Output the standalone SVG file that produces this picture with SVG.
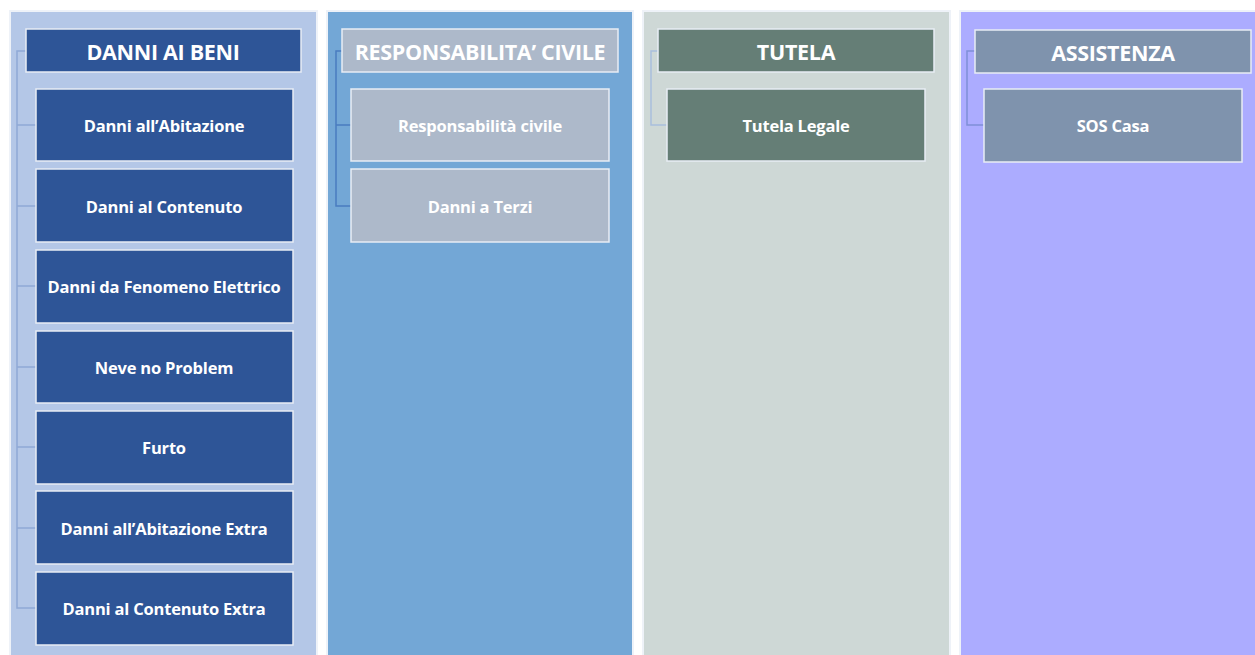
<svg xmlns="http://www.w3.org/2000/svg" width="1255" height="655" viewBox="0 0 1255 655">
<style>
.col{stroke:#eef2f8;stroke-width:2}
.hdr{stroke:#e8edf5;stroke-width:1.5}
.box{stroke:#e8edf5;stroke-width:1.5}
.th{font-family:"Open Sans","Liberation Sans",sans-serif;font-weight:bold;font-size:21.5px;fill:#ffffff;text-anchor:middle;dominant-baseline:central;letter-spacing:-0.3px}
.tc{font-family:"Open Sans","Liberation Sans",sans-serif;font-weight:bold;font-size:16.5px;fill:#ffffff;text-anchor:middle;dominant-baseline:central;letter-spacing:-0.2px}
.c1{stroke:#8fa9d6;stroke-width:1.5;fill:none}
.c2{stroke:#4a7cc0;stroke-width:1.5;fill:none}
.c3{stroke:#a9bedd;stroke-width:1.5;fill:none}
.c4{stroke:#7f8fd8;stroke-width:1.5;fill:none}
</style>
<rect width="1255" height="655" fill="#ffffff"/>
<g id="columns">
<rect class="col" x="10" y="11" width="307" height="650" fill="#b4c7e7"/>
<rect class="col" x="327" y="11" width="306" height="650" fill="#73a7d6"/>
<rect class="col" x="643" y="11" width="307" height="650" fill="#ced8d6"/>
<rect class="col" x="960" y="11" width="300" height="650" fill="#acacff"/>
</g>
<g id="connectors">
<path class="c1" d="M26 51H17V608H36M17 125H36M17 206H36M17 286H36M17 367H36M17 447H36M17 528H36"/>
<path class="c2" d="M342 51H336V206H351M336 125H351"/>
<path class="c3" d="M658 51H651V125H667"/>
<path class="c4" d="M975 51H967V125H984"/>
</g>
<g id="danni-ai-beni"><rect class="hdr" x="26" y="29" width="275" height="43" fill="#2e5597"/><text class="th" x="163" y="51">DANNI AI BENI</text></g>
<g id="danni-abitazione"><rect class="box" x="36" y="89" width="257" height="72" fill="#2e5597"/><text class="tc" x="164" y="125">Danni all’Abitazione</text></g>
<g id="danni-contenuto"><rect class="box" x="36" y="169" width="257" height="73" fill="#2e5597"/><text class="tc" x="164" y="206">Danni al Contenuto</text></g>
<g id="danni-fenomeno"><rect class="box" x="36" y="250" width="257" height="73" fill="#2e5597"/><text class="tc" x="164" y="286">Danni da Fenomeno Elettrico</text></g>
<g id="neve"><rect class="box" x="36" y="331" width="257" height="72" fill="#2e5597"/><text class="tc" x="164" y="367">Neve no Problem</text></g>
<g id="furto"><rect class="box" x="36" y="411" width="257" height="73" fill="#2e5597"/><text class="tc" x="164" y="447">Furto</text></g>
<g id="danni-abitazione-extra"><rect class="box" x="36" y="491" width="257" height="73" fill="#2e5597"/><text class="tc" x="164" y="528">Danni all’Abitazione Extra</text></g>
<g id="danni-contenuto-extra"><rect class="box" x="36" y="572" width="257" height="73" fill="#2e5597"/><text class="tc" x="164" y="608">Danni al Contenuto Extra</text></g>
<g id="resp-civile-hdr"><rect class="hdr" x="342" y="29" width="276" height="43" fill="#adb9ca"/><text class="th" x="480" y="51">RESPONSABILITA’ CIVILE</text></g>
<g id="resp-civile"><rect class="box" x="351" y="89" width="258" height="72" fill="#adb9ca"/><text class="tc" x="480" y="125">Responsabilità civile</text></g>
<g id="danni-terzi"><rect class="box" x="351" y="169" width="258" height="73" fill="#adb9ca"/><text class="tc" x="480" y="206">Danni a Terzi</text></g>
<g id="tutela-hdr"><rect class="hdr" x="658" y="29" width="276" height="43" fill="#657e76"/><text class="th" x="796" y="51">TUTELA</text></g>
<g id="tutela-legale"><rect class="box" x="667" y="89" width="258" height="72" fill="#657e76"/><text class="tc" x="796" y="125">Tutela Legale</text></g>
<g id="assistenza-hdr"><rect class="hdr" x="975" y="30" width="276" height="43" fill="#7f93ad"/><text class="th" x="1113" y="52">ASSISTENZA</text></g>
<g id="sos-casa"><rect class="box" x="984" y="89" width="258" height="73" fill="#7f93ad"/><text class="tc" x="1113" y="125">SOS Casa</text></g>
</svg>
